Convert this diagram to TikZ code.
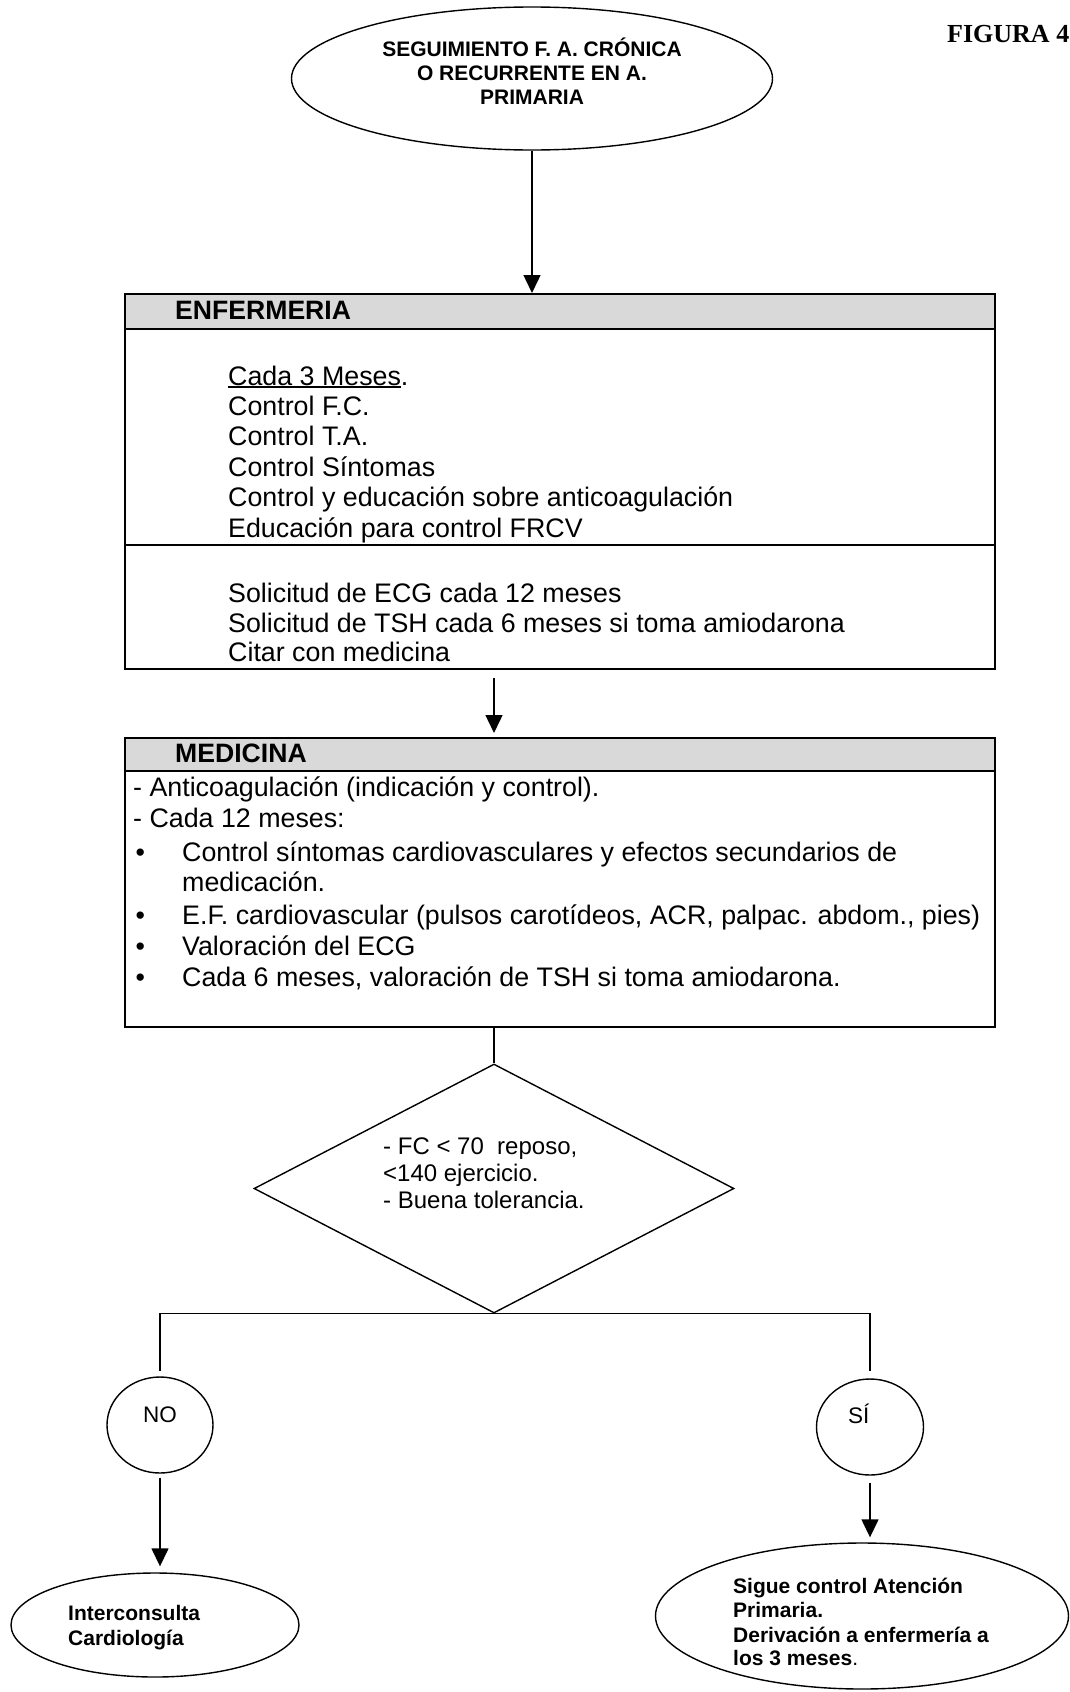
\documentclass[tikz,border=0pt]{standalone}
\usepackage{fontspec}
\setmainfont{Liberation Sans}
\newfontfamily\figfont{Liberation Serif}
\usetikzlibrary{shapes.geometric, arrows.meta}

% underline drawn as a rule of chosen thickness and offset
\newcommand{\ulword}[1]{\setbox0\hbox{#1}\rlap{\rule[-2.6pt]{\wd0}{1.5pt}}\box0}

\tikzset{
  frame/.style={draw, line width=2pt, inner sep=0pt},
  hdrfill/.style={fill=black!15, inner sep=0pt},
  oval/.style={draw, ellipse, line width=1.4pt, inner sep=0pt},
  rhomb/.style={draw, diamond, line width=1.4pt, inner sep=0pt},
  arr/.style={line width=1.4pt, -{Triangle[length=18pt,width=17pt]}},
  link/.style={line width=1.4pt},
  rule2/.style={line width=2pt},
  body/.style={anchor=base west, inner sep=0pt, font=\fontsize{26.8}{30}\selectfont},
  head/.style={anchor=base west, inner sep=0pt, font=\fontsize{26.6}{30}\selectfont\bfseries},
  dtxt/.style={anchor=base west, inner sep=0pt, font=\fontsize{24}{27}\selectfont},
  yn/.style={anchor=base west, inner sep=0pt, font=\fontsize{22.5}{26}\selectfont},
  otxt/.style={anchor=base west, inner sep=0pt, font=\fontsize{21}{24}\selectfont\bfseries},
  ctxt/.style={anchor=base, inner sep=0pt, font=\fontsize{21}{24}\selectfont\bfseries},
}

\begin{document}
\begin{tikzpicture}[x=1pt, y=-1pt]
\useasboundingbox (0,0) rectangle (1070,1692);

% title oval
\node[oval, minimum width=481, minimum height=143] (start) at (532,78.5) {};
\node[ctxt] (s1) at (532,56) {SEGUIMIENTO F. A. CRÓNICA};
\node[ctxt] (s2) at (532,80) {O RECURRENTE EN A.};
\node[ctxt] (s3) at (532,104) {PRIMARIA};

\node[anchor=base west, inner sep=0pt, font=\figfont\bfseries\fontsize{26}{30}\selectfont] (fig) at (947,42) {FIGURA 4};

% ENFERMERIA box
\node[hdrfill, minimum width=870, minimum height=36, anchor=north west] (enfhead) at (124,293) {};
\node[frame, minimum width=870, minimum height=375, anchor=north west] (enf) at (124,293) {};
\draw[rule2] (enfhead.south west) -- (enfhead.south east);
\coordinate (enfdiv) at (124,545);
\draw[rule2] (enfdiv) -- (enfdiv -| enf.east);
\node[head] (enftitle) at (175,319) {ENFERMERIA};
\node[body] (e1) at (228,385) {\ulword{Cada 3 Meses}.};
\node[body] (e2) at (228,415.4) {Control F.C.};
\node[body] (e3) at (228,445.8) {Control T.A.};
\node[body] (e4) at (228,476.2) {Control Síntomas};
\node[body] (e5) at (228,506.6) {Control y educación sobre anticoagulación};
\node[body] (e6) at (228,537) {Educación para control FRCV};
\node[body] (e7) at (228,602) {Solicitud de ECG cada 12 meses};
\node[body] (e8) at (228,632) {Solicitud de TSH cada 6 meses si toma amiodarona};
\node[body] (e9) at (228,661) {Citar con medicina};

% MEDICINA box
\node[hdrfill, minimum width=870, minimum height=34, anchor=north west] (medhead) at (124,737) {};
\node[frame, minimum width=870, minimum height=289, anchor=north west] (med) at (124,737) {};
\draw[rule2] (medhead.south west) -- (medhead.south east);
\node[head] (medtitle) at (175,762) {MEDICINA};
\node[body] (m1) at (133,796) {- Anticoagulación (indicación y control).};
\node[body] (m2) at (133,827) {- Cada 12 meses:};
\node[body] (b1) at (135.5,861) {•};
\node[body] (m3) at (182,861) {Control síntomas cardiovasculares y efectos secundarios de};
\node[body] (m4) at (182,891) {medicación.};
\node[body] (b2) at (135.5,924) {•};
\node[body] (m5) at (182,924) {E.F. cardiovascular (pulsos carotídeos, ACR, palpac. abdom., pies)};
\node[body] (b3) at (135.5,955) {•};
\node[body] (m6) at (182,955) {Valoración del ECG};
\node[body] (b4) at (135.5,986) {•};
\node[body] (m7) at (182,986) {Cada 6 meses, valoración de TSH si toma amiodarona.};

% decision
\node[rhomb, minimum width=480, minimum height=249] (dia) at (494,1188.5) {};
\node[dtxt] (d1) at (383,1154) {- FC < 70~~reposo,};
\node[dtxt] (d2) at (383,1181) {<140 ejercicio.};
\node[dtxt] (d3) at (383,1208) {- Buena tolerancia.};

% answers
\node[oval, minimum width=106, minimum height=96] (no) at (160,1425) {};
\node[yn] (notxt) at (143,1422) {NO};
\node[oval, minimum width=107, minimum height=96] (si) at (870,1427) {};
\node[yn] (sitxt) at (848,1423) {SÍ};

% outcomes
\node[oval, minimum width=288, minimum height=104] (inter) at (155,1625) {};
\node[otxt] (i1) at (68,1620) {Interconsulta};
\node[otxt] (i2) at (68,1645) {Cardiología};

\node[oval, minimum width=413, minimum height=146] (sigue) at (862,1616) {};
\node[otxt] (g1) at (733,1593) {Sigue control Atención};
\node[otxt] (g2) at (733,1617) {Primaria.};
\node[otxt] (g3) at (733,1642) {Derivación a enfermería a};
\node[otxt] (g4) at (733,1665) {los 3 meses\textmd{.}};

% connectors
\draw[arr] (start.south) -- (start.south |- enfhead.north);
\draw[arr, shorten <=8pt, shorten >=4pt] (enf.south -| dia.north) -- (med.north -| dia.north);
\draw[link] (med.south -| dia.north) -- (dia.north);
\draw[link, shorten >=5pt] (dia.south) -| (no.north);
\draw[link, shorten >=7pt] (dia.south) -| (si.north);
\draw[arr, shorten <=4pt, shorten >=6pt] (no.south) -- (no.south |- inter.north);
\draw[arr, shorten <=7pt, shorten >=5pt] (si.south) -- (si.south |- sigue.north);
\end{tikzpicture}
\end{document}
